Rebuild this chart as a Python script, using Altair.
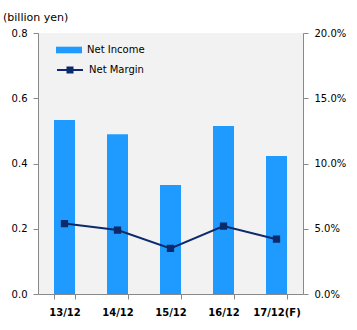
import altair as alt
import pandas as pd

categories = ["13/12", "14/12", "15/12", "16/12", "17/12(F)"]
net_income = [0.533, 0.490, 0.334, 0.515, 0.423]
net_margin = [0.054, 0.049, 0.035, 0.052, 0.042]

df = pd.DataFrame({
    "period": categories,
    "income": net_income,
    "margin": net_margin,
    "s1": ["Net Income"] * 5,
    "s2": ["Net Margin"] * 5,
})

FONT = "DejaVu Sans"
BAR = "#1f9bff"
LINE = "#0d2a6b"
AX = "#898989"

x = alt.X("period:N", sort=categories, title=None,
          scale=alt.Scale(paddingInner=0.6, paddingOuter=0.3),
          axis=alt.Axis(labelAngle=0, labelFont=FONT, labelFontSize=10, labelFontWeight="bold",
                        labelColor="#000", domainColor=AX, tickColor=AX, tickSize=5,
                        tickBand="extent", labelPadding=8))

bars = alt.Chart(df).mark_bar(size=21).encode(
    x=x,
    y=alt.Y("income:Q", title=None,
            scale=alt.Scale(domain=[0, 0.8], nice=False),
            axis=alt.Axis(values=[0, 0.2, 0.4, 0.6, 0.8], format=".1f", orient="left",
                          labelFont=FONT, labelFontSize=10, labelColor="#000",
                          domainColor=AX, tickColor=AX, tickSize=5, grid=False, labelPadding=6)),
    color=alt.Color("s1:N", scale=alt.Scale(domain=["Net Income"], range=[BAR]),
                    legend=alt.Legend(title=None, orient="none", legendX=21, legendY=7,
                                      symbolType="M-1.3,-0.33H1.3V0.33H-1.3Z", symbolSize=400,
                                      labelOffset=8,
                                      labelFont=FONT, labelFontSize=10, labelColor="#000",
                                      symbolStrokeWidth=0)),
)

line = alt.Chart(df).mark_line(strokeWidth=2, point=alt.OverlayMarkDef(shape="square", size=28, filled=True, color=LINE)).encode(
    x=x,
    y=alt.Y("margin:Q", title=None,
            scale=alt.Scale(domain=[0, 0.2], nice=False),
            axis=alt.Axis(values=[0, 0.05, 0.1, 0.15, 0.2], format=".1%", orient="right",
                          labelFont=FONT, labelFontSize=10, labelColor="#000",
                          domainColor=AX, tickColor=AX, tickSize=5, grid=False, labelPadding=6)),
    stroke=alt.Stroke("s2:N", scale=alt.Scale(domain=["Net Margin"], range=[LINE]),
                      legend=alt.Legend(title=None, orient="none", legendX=21, legendY=26,
                                        symbolType="M-1.3,0H1.3M-0.25,-0.25H0.25V0.25H-0.25Z", symbolSize=400,
                                        symbolStrokeWidth=2, symbolFillColor=LINE, labelOffset=8,
                                        labelFont=FONT, labelFontSize=10, labelColor="#000")),
)

title = alt.Chart(df).mark_text(text="(billion yen)", align="left", baseline="middle",
                                font=FONT, fontSize=11, color="#000").encode(
    x=alt.value(-35), y=alt.value(-15))

chart = alt.layer(bars, line, title.transform_filter(alt.datum.period == "13/12")).resolve_scale(
    y="independent", color="independent", stroke="independent"
).properties(
    width=265, height=261, padding={"left": 38, "top": 33, "right": 54, "bottom": 36},
    autosize=alt.AutoSizeParams(type="none"),
    background="white",
).configure_view(fill="#f2f2f2", stroke=None).configure_axis(domainWidth=1)

chart.save("out.html", embed_options={"renderer": "svg", "actions": False})
